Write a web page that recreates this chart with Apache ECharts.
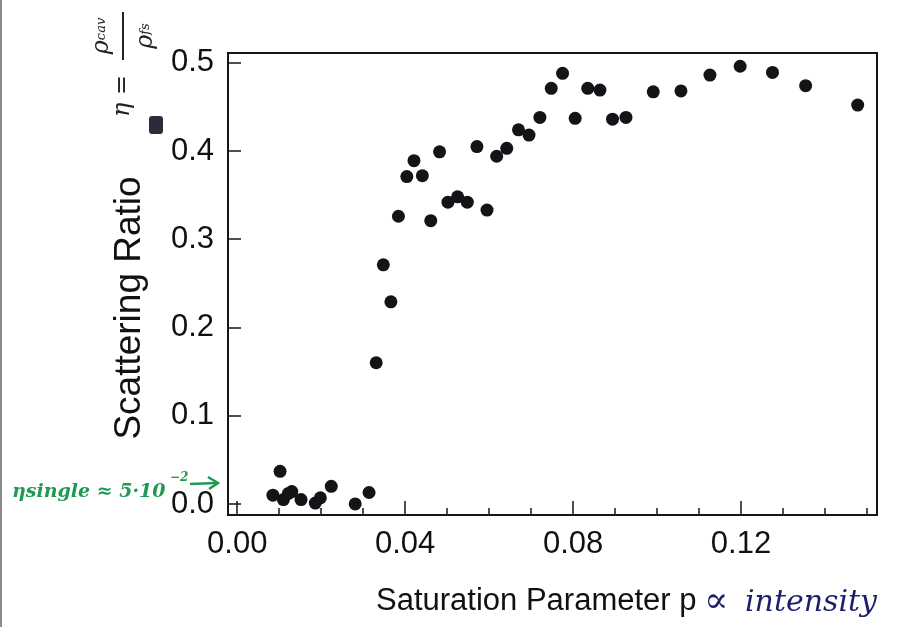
<!DOCTYPE html>
<html>
<head>
<meta charset="utf-8">
<script src="https://cdn.jsdelivr.net/npm/echarts@6/dist/echarts.min.js"></script>
<style>
  html, body { margin: 0; padding: 0; background: #fff; }
  #chart { width: 911px; height: 627px; }
</style>
</head>
<body>
<div id="chart"></div>
<script>
// saturation parameter p
var pValues = [0.0085, 0.0102, 0.0110, 0.0122, 0.0130, 0.0152, 0.0186, 0.0198, 0.0224, 0.0281,
  0.0314, 0.0331, 0.0348, 0.0366, 0.0384, 0.0404, 0.0421, 0.0441, 0.0461, 0.0482,
  0.0502, 0.0525, 0.0548, 0.0571, 0.0595, 0.0618, 0.0642, 0.0670, 0.0695, 0.0721,
  0.0748, 0.0775, 0.0805, 0.0835, 0.0864, 0.0894, 0.0926, 0.0991, 0.1057, 0.1126,
  0.1198, 0.1275, 0.1354, 0.1478];
// scattering ratio eta
var etaValues = [0.010, 0.037, 0.005, 0.012, 0.014, 0.005, 0.001, 0.007, 0.020, 0.000,
  0.013, 0.160, 0.271, 0.229, 0.326, 0.371, 0.389, 0.372, 0.321, 0.399,
  0.342, 0.348, 0.342, 0.405, 0.333, 0.394, 0.403, 0.424, 0.418, 0.438,
  0.471, 0.488, 0.437, 0.471, 0.469, 0.436, 0.438, 0.467, 0.468, 0.486,
  0.496, 0.489, 0.474, 0.452];

var xMajorTicks = [0, 0.04, 0.08, 0.12];
var xMinorTicks = [0.01, 0.02, 0.03, 0.05, 0.06, 0.07, 0.09, 0.10, 0.11, 0.13, 0.14, 0.15];
var yTicks = [0, 0.1, 0.2, 0.3, 0.4, 0.5];

var X_MIN = -0.0022, X_MAX = 0.1524;
var Y_MIN = -0.0125, Y_MAX = 0.511;

var points = [];
for (var i = 0; i < pValues.length; i++) {
  points.push([pValues[i], etaValues[i]]);
}

var ink = '#161616';
var font = 'Liberation Sans, Arial, sans-serif';
var hand = 'DejaVu Serif, serif';
var green = '#1f9a52';

var option = {
  backgroundColor: '#fff',
  animation: false,
  grid: {
    left: 228, top: 53, right: 34, bottom: 112,
    show: true, borderColor: ink, borderWidth: 2
  },
  xAxis: [
    {
      type: 'value', min: X_MIN, max: X_MAX, position: 'bottom',
      axisLine: { show: true, onZero: false, lineStyle: { color: ink, width: 2 } },
      axisTick: { show: true, inside: true, length: 14, customValues: xMajorTicks,
        lineStyle: { color: ink, width: 1.5 } },
      axisLabel: { customValues: xMajorTicks, fontSize: 31, margin: 14, color: '#111',
        fontFamily: font,
        formatter: function (v) { return v.toFixed(2); } },
      splitLine: { show: false }
    },
    {
      type: 'value', min: X_MIN, max: X_MAX, position: 'bottom',
      axisLine: { show: false, onZero: false },
      axisTick: { show: true, inside: true, length: 7, customValues: xMinorTicks,
        lineStyle: { color: ink, width: 1.5 } },
      axisLabel: { show: false },
      splitLine: { show: false }
    }
  ],
  yAxis: [
    {
      type: 'value', min: Y_MIN, max: Y_MAX, position: 'left',
      axisLine: { show: true, onZero: false, lineStyle: { color: ink, width: 2 } },
      axisTick: { show: true, inside: true, length: 13, customValues: yTicks,
        lineStyle: { color: ink, width: 1.5 } },
      axisLabel: { customValues: yTicks, fontSize: 31, margin: 14, color: '#111',
        fontFamily: font,
        formatter: function (v) { return v.toFixed(1); } },
      splitLine: { show: false }
    }
  ],
  series: [
    {
      type: 'scatter',
      xAxisIndex: 0, yAxisIndex: 0,
      symbol: 'circle',
      symbolSize: 13,
      itemStyle: { color: '#141418', opacity: 1 },
      data: points
    }
  ],
  graphic: [
    // page edge
    { type: 'line', shape: { x1: 1, y1: 0, x2: 1, y2: 627 }, style: { stroke: '#8a8a8a', lineWidth: 2 } },
    // axis titles
    { type: 'text', x: 130, y: 308, rotation: Math.PI / 2,
      style: { text: 'Scattering Ratio', font: '37px ' + font, fill: '#111',
        align: 'center', verticalAlign: 'middle' } },
    { type: 'text', x: 376, y: 601,
      style: { text: 'Saturation Parameter p', font: '31px ' + font, fill: '#111',
        align: 'left', verticalAlign: 'middle' } },
    // handwritten notes
    { type: 'text', x: 704, y: 603,
      style: { text: '\u221D', font: '36px ' + hand, fill: '#1c1f6b',
        align: 'left', verticalAlign: 'middle' } },
    { type: 'text', x: 745, y: 603,
      style: { text: 'intensity', font: 'italic 30px ' + hand, fill: '#1c1f6b',
        align: 'left', verticalAlign: 'middle' } },
    { type: 'text', x: 123, y: 96, rotation: Math.PI / 2,
      style: { text: '\u03B7 =', font: 'italic 24px ' + hand, fill: '#222',
        align: 'center', verticalAlign: 'middle' } },
    { type: 'line', shape: { x1: 123, y1: 12, x2: 123, y2: 60 }, style: { stroke: '#222', lineWidth: 2 } },
    { type: 'text', x: 102, y: 36, rotation: Math.PI / 2,
      style: { text: '{r|\u03C1}{s|cav}', align: 'center', verticalAlign: 'middle',
        rich: { r: { font: 'italic 24px ' + hand, fill: '#222' },
                s: { font: 'italic 13px ' + hand, fill: '#222' } } } },
    { type: 'text', x: 146, y: 36, rotation: Math.PI / 2,
      style: { text: '{r|\u03C1}{s|fs}', align: 'center', verticalAlign: 'middle',
        rich: { r: { font: 'italic 24px ' + hand, fill: '#222' },
                s: { font: 'italic 13px ' + hand, fill: '#222' } } } },
    { type: 'rect', shape: { x: 149, y: 116, width: 14, height: 18, r: 3 }, style: { fill: '#2b2c3a' } },
    { type: 'text', x: 12, y: 492,
      style: { text: '\u03B7single \u2248 5\u00B710', font: 'italic bold 19px ' + hand, fill: green,
        align: 'left', verticalAlign: 'middle' } },
    { type: 'text', x: 170, y: 478,
      style: { text: '\u22122', font: 'italic bold 12px ' + hand, fill: green,
        align: 'left', verticalAlign: 'middle' } },
    { type: 'polyline', shape: { points: [[190, 484], [216, 483]] }, style: { stroke: green, lineWidth: 2.5, fill: null } },
    { type: 'polyline', shape: { points: [[208, 477], [218, 483], [209, 489]] }, style: { stroke: green, lineWidth: 2.5, fill: null } }
  ]
};

var myChart = echarts.init(document.getElementById('chart'));
myChart.setOption(option);
</script>
</body>
</html>
